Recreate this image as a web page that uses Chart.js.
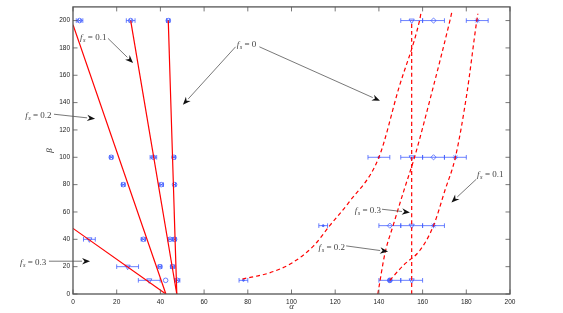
<!DOCTYPE html>
<html lang="en">
<head>
<meta charset="UTF-8">
<title>alpha - beta</title>
<script src="https://cdn.jsdelivr.net/npm/chart.js"></script>
<style>
    body { margin: 0; background: #fff; }
    #chart-container { width: 563px; height: 313px; }
</style>
</head>
<body>
<div id="chart-container"><canvas id="myChart" width="563" height="313"></canvas></div>
<script>
    // Axis ticks
    var alphaTicks = [0, 20, 40, 60, 80, 100, 120, 140, 160, 180, 200];
    var betaTicks = [0, 20, 40, 60, 80, 100, 120, 140, 160, 180, 200];

    // Solid model lines (left group)
    var lineFs0Alpha = [43.6, 47.5];
    var lineFs0Beta = [200, 0];
    var lineFs1Alpha = [26.4, 47.5];
    var lineFs1Beta = [200, 0];
    var lineFs2Alpha = [0, 42.5];
    var lineFs2Beta = [197, 0];
    var lineFs3Alpha = [0, 42.5];
    var lineFs3Beta = [48, 0];

    // Dashed model curves (right group)
    var curveFs0Alpha = [77.5, 90, 100, 110, 117.5, 126, 140, 149, 158.6, 159.2];
    var curveFs0Beta = [11, 15.5, 22.5, 35, 50, 66.5, 100, 150, 200, 205];
    var curveFs1Alpha = [145, 151.2, 158.8, 165, 170.2, 175, 180.2, 184.8, 185.3];
    var curveFs1Beta = [10, 21, 32, 50, 75.7, 100, 146, 200, 205];
    var curveFs2Alpha = [139.5, 142.8, 146.5, 151.5, 156.3, 164, 172.5, 173.5];
    var curveFs2Beta = [0, 30, 50, 76, 100, 146, 200, 207];
    var curveFs3Alpha = [155, 155];
    var curveFs3Beta = [0, 200];

    // Measured points with horizontal error (left group)
    var crossAlpha = [3, 17.5, 23, 32.2, 39.8, 26.4, 36.8, 40.4, 44.4, 45.6, 47.7, 43.6, 46.2, 46.5, 46.5];
    var crossBeta = [200, 100, 80, 40, 20, 200, 100, 80, 40, 20, 10, 200, 100, 80, 40];
    var crossErr = [1.5, 0.7, 0.8, 1, 0.8, 2, 1.5, 1, 1, 1, 1.2, 0.8, 0.7, 0.5, 0.7];
    var ringAlpha = [42.4];
    var ringBeta = [10];
    var ringErr = [0];
    var triAlpha = [7.5, 25, 34.9, 155, 155, 155, 155];
    var triBeta = [40, 20, 10, 200, 100, 50, 10];
    var triErr = [2.7, 5, 5, 5, 5, 5, 5];

    // Measured points (right group)
    var diamondAlpha = [165, 165, 145];
    var diamondBeta = [200, 100, 50];
    var diamondErr = [5, 5, 5];
    var starAlpha = [185, 175, 165];
    var starBeta = [200, 100, 50];
    var starErr = [5, 5, 5];
    var dotAlpha = [145];
    var dotBeta = [10];
    var dotErr = [5];
    var smallAlpha = [78, 114.5, 140];
    var smallBeta = [10, 50, 100];
    var smallErr = [2, 2, 5];

    var red = '#ff0000';
    var blue = 'rgba(60, 90, 255, 0.85)';

    function pts(xs, ys) {
        return xs.map(function (x, i) { return { x: x, y: ys[i] }; });
    }

    function lineSet(xs, ys, dashed) {
        return {
            data: pts(xs, ys),
            showLine: true,
            borderColor: red,
            borderWidth: 1.2,
            borderDash: dashed ? [4, 3] : [],
            pointRadius: 0,
            fill: false,
            cubicInterpolationMode: dashed ? 'monotone' : 'default',
            tension: 0
        };
    }

    function markSet(xs, ys, style, radius, filled, rotation) {
        return {
            data: pts(xs, ys),
            showLine: false,
            pointStyle: style,
            pointRadius: radius,
            pointRotation: rotation || 0,
            pointBorderWidth: 0.9,
            borderColor: blue,
            backgroundColor: filled ? blue : 'rgba(0,0,0,0)'
        };
    }

    // error bar groups drawn by plugin
    var errGroups = [
        [crossAlpha, crossBeta, crossErr],
        [ringAlpha, ringBeta, ringErr],
        [triAlpha, triBeta, triErr],
        [diamondAlpha, diamondBeta, diamondErr],
        [starAlpha, starBeta, starErr],
        [dotAlpha, dotBeta, dotErr],
        [smallAlpha, smallBeta, smallErr]
    ];

    // annotation labels: value, text pos (data), align, arrows [from, to]
    var notes = [
        { v: '0.1', at: [3.2, 186], align: 'left', arrows: [[[16, 187], [27.5, 169]]] },
        { v: '0.2', at: [-21.9, 129], align: 'left', arrows: [[[-8.7, 131.5], [10.1, 128.2]]] },
        { v: '0.3', at: [-24.3, 21.5], align: 'left', arrows: [[[-11, 24], [7.8, 24]]] },
        { v: '0', at: [79.4, 180.5], align: 'center', arrows: [[[74.4, 180.8], [50.3, 138.4]], [[85.3, 180.8], [140.5, 141.3]]] },
        { v: '0.3', at: [141, 59.5], align: 'right', arrows: [[[141.4, 62], [154.2, 59.7]]] },
        { v: '0.2', at: [124.5, 32.5], align: 'right', arrows: [[[125, 35.2], [144.2, 31]]] },
        { v: '0.1', at: [184.9, 85.5], align: 'left', arrows: [[[184.6, 84], [173.2, 67]]] }
    ];

    var errorBars = {
        id: 'errorBars',
        beforeDatasetsDraw: function (chart) {
            var ctx = chart.ctx, xs = chart.scales.x, ys = chart.scales.y;
            ctx.save();
            ctx.strokeStyle = blue;
            ctx.lineWidth = 0.9;
            errGroups.forEach(function (g) {
                g[0].forEach(function (a, i) {
                    var e = g[2][i];
                    if (!e) return;
                    var x1 = xs.getPixelForValue(a - e), x2 = xs.getPixelForValue(a + e);
                    var y = ys.getPixelForValue(g[1][i]);
                    ctx.beginPath();
                    ctx.moveTo(x1, y); ctx.lineTo(x2, y);
                    ctx.moveTo(x1, y - 2.3); ctx.lineTo(x1, y + 2.3);
                    ctx.moveTo(x2, y - 2.3); ctx.lineTo(x2, y + 2.3);
                    ctx.stroke();
                });
            });
            ctx.restore();
        }
    };

    function drawFs(ctx, x, y, v, align) {
        var main = '9px "Liberation Serif"';
        var itl = 'italic 9px "Liberation Serif"';
        var sub = 'italic 6.5px "Liberation Serif"';
        var rest = ' = ' + v;
        ctx.font = itl; var wf = ctx.measureText('f').width + 0.6;
        ctx.font = sub; var ws = ctx.measureText('s').width;
        ctx.font = main; var wr = ctx.measureText(rest).width;
        var w = wf + ws + wr;
        var left = align === 'left' ? x : (align === 'right' ? x - w : x - w / 2);
        ctx.textAlign = 'left';
        ctx.textBaseline = 'alphabetic';
        ctx.font = itl; ctx.fillText('f', left, y);
        ctx.font = sub; ctx.fillText('s', left + wf, y + 2);
        ctx.font = main; ctx.fillText(rest, left + wf + ws, y);
    }

    function arrow(ctx, x1, y1, x2, y2) {
        var ang = Math.atan2(y2 - y1, x2 - x1), L = 8, W = 3.2;
        var bx = x2 - L * Math.cos(ang), by = y2 - L * Math.sin(ang);
        ctx.beginPath();
        ctx.moveTo(x1, y1);
        ctx.lineTo(bx, by);
        ctx.stroke();
        ctx.beginPath();
        ctx.moveTo(x2, y2);
        ctx.lineTo(bx - W * Math.sin(ang), by + W * Math.cos(ang));
        ctx.lineTo(bx + 2.5 * Math.cos(ang), by + 2.5 * Math.sin(ang));
        ctx.lineTo(bx + W * Math.sin(ang), by - W * Math.cos(ang));
        ctx.closePath();
        ctx.fill();
    }

    var frame = {
        id: 'frame',
        afterDraw: function (chart) {
            var ctx = chart.ctx, a = chart.chartArea, xs = chart.scales.x, ys = chart.scales.y;
            ctx.save();
            ctx.strokeStyle = '#555';
            ctx.lineWidth = 1.3;
            ctx.strokeRect(a.left, a.top, a.right - a.left, a.bottom - a.top);
            ctx.lineWidth = 0.8;
            ctx.beginPath();
            alphaTicks.forEach(function (t) {
                var px = xs.getPixelForValue(t);
                ctx.moveTo(px, a.bottom); ctx.lineTo(px, a.bottom - 4.5);
                ctx.moveTo(px, a.top); ctx.lineTo(px, a.top + 4.5);
            });
            betaTicks.forEach(function (t) {
                var py = ys.getPixelForValue(t);
                ctx.moveTo(a.left, py); ctx.lineTo(a.left + 4.5, py);
                ctx.moveTo(a.right, py); ctx.lineTo(a.right - 4.5, py);
            });
            ctx.stroke();

            // axis titles
            ctx.fillStyle = '#333';
            ctx.font = 'italic 9px "Liberation Serif"';
            ctx.textAlign = 'center';
            ctx.textBaseline = 'middle';
            ctx.fillText('\u03b1', (a.left + a.right) / 2, 306.5);
            ctx.save();
            ctx.translate(50, (a.top + a.bottom) / 2);
            ctx.rotate(-Math.PI / 2);
            ctx.fillText('\u03b2', 0, 0);
            ctx.restore();

            // annotations
            ctx.strokeStyle = '#555';
            ctx.fillStyle = '#111';
            ctx.lineWidth = 0.8;
            notes.forEach(function (n) {
                n.arrows.forEach(function (ar) {
                    arrow(ctx, xs.getPixelForValue(ar[0][0]), ys.getPixelForValue(ar[0][1]),
                        xs.getPixelForValue(ar[1][0]), ys.getPixelForValue(ar[1][1]));
                });
            });
            ctx.fillStyle = '#444';
            notes.forEach(function (n) {
                drawFs(ctx, xs.getPixelForValue(n.at[0]), ys.getPixelForValue(n.at[1]), n.v, n.align);
            });
            ctx.restore();
        }
    };

    var tickFont = { family: 'Liberation Sans', size: 6.5 };

    var ctx = document.getElementById('myChart').getContext('2d');
    var myChart = new Chart(ctx, {
        type: 'scatter',
        data: {
            datasets: [
                lineSet(lineFs0Alpha, lineFs0Beta, false),
                lineSet(lineFs1Alpha, lineFs1Beta, false),
                lineSet(lineFs2Alpha, lineFs2Beta, false),
                lineSet(lineFs3Alpha, lineFs3Beta, false),
                lineSet(curveFs0Alpha, curveFs0Beta, true),
                lineSet(curveFs1Alpha, curveFs1Beta, true),
                lineSet(curveFs2Alpha, curveFs2Beta, true),
                lineSet(curveFs3Alpha, curveFs3Beta, true),
                markSet(crossAlpha, crossBeta, 'circle', 2.3, false),
                markSet(crossAlpha, crossBeta, 'crossRot', 2.3, false),
                markSet(ringAlpha, ringBeta, 'circle', 2.3, false),
                markSet(triAlpha, triBeta, 'triangle', 3, false, 180),
                markSet(diamondAlpha, diamondBeta, 'rectRot', 2.6, false),
                markSet(starAlpha, starBeta, 'star', 2.6, false),
                markSet(dotAlpha, dotBeta, 'circle', 2.4, true),
                markSet(smallAlpha, smallBeta, 'circle', 1, true)
            ]
        },
        options: {
            responsive: false,
            animation: false,
            devicePixelRatio: 1,
            layout: { padding: { top: 5, right: 53, left: 0, bottom: 0 } },
            plugins: { legend: { display: false }, tooltip: { enabled: false } },
            scales: {
                x: {
                    type: 'linear', min: 0, max: 200,
                    grid: { display: false, drawTicks: false },
                    border: { display: false },
                    ticks: { stepSize: 20, padding: 4, font: tickFont, color: '#222', maxRotation: 0 },
                    afterFit: function (s) { s.height = 19; }
                },
                y: {
                    type: 'linear', min: 0, max: 210,
                    grid: { display: false, drawTicks: false },
                    border: { display: false },
                    ticks: { stepSize: 20, padding: 3, font: tickFont, color: '#222' },
                    afterBuildTicks: function (s) {
                        s.ticks = s.ticks.filter(function (t) { return t.value <= 200; });
                    },
                    afterFit: function (s) { s.width = 73; }
                }
            }
        },
        plugins: [errorBars, frame]
    });
</script>
</body>
</html>
